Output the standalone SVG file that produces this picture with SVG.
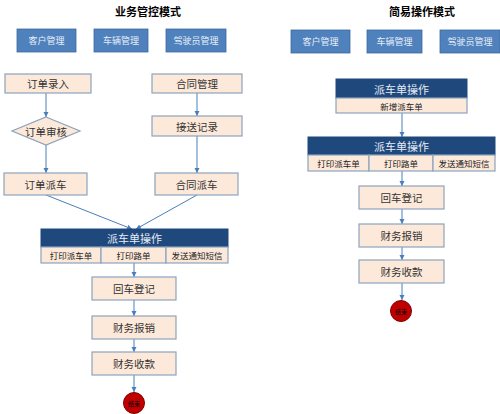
<svg xmlns="http://www.w3.org/2000/svg" width="500" height="414" viewBox="0 0 500 414">
<defs>
<style>
text{font-family:"Noto Sans CJK SC","Noto Sans",sans-serif;text-anchor:middle;dominant-baseline:central}
.title{font-size:11px;font-weight:bold;fill:#000}
.mb{fill:#4f81bd;stroke:#3c6a9e;stroke-width:0.8}
.mbt{font-size:9px;fill:#e8eef8}
.box{fill:#fde9d9;stroke:#8da3bd;stroke-width:1.2}
.bt{font-size:10.5px;fill:#333}
.hd{fill:#1f497d;stroke:#1f497d}
.hdt{font-size:11px;fill:#e6ecf5}
.ct{font-size:8.5px;fill:#222}
.ln{stroke:#4a7ebb;stroke-width:1;fill:none}
.end{fill:#c00000;stroke:#7f0000;stroke-width:1}
.et{font-size:6px;fill:#000}
</style>
<marker id="ah" markerWidth="6" markerHeight="6" refX="5" refY="3" orient="auto" markerUnits="userSpaceOnUse">
<path d="M0,0.5 L5,3 L0,5.5 Z" fill="#4a7ebb"/>
</marker>
</defs>
<rect width="500" height="414" fill="#fff"/>

<text class="title" x="148" y="11">业务管控模式</text>
<text class="title" x="422" y="11">简易操作模式</text>

<g id="connectors">
<line class="ln" x1="46" y1="93" x2="46" y2="117" marker-end="url(#ah)"/>
<line class="ln" x1="46" y1="145" x2="46" y2="173" marker-end="url(#ah)"/>
<line class="ln" x1="197" y1="93" x2="197" y2="116" marker-end="url(#ah)"/>
<line class="ln" x1="197" y1="136" x2="197" y2="173" marker-end="url(#ah)"/>
<line class="ln" x1="46" y1="195" x2="132" y2="229" marker-end="url(#ah)"/>
<line class="ln" x1="197" y1="195" x2="136" y2="229" marker-end="url(#ah)"/>
<line class="ln" x1="134" y1="263" x2="134" y2="277" marker-end="url(#ah)"/>
<line class="ln" x1="134" y1="300" x2="134" y2="316" marker-end="url(#ah)"/>
<line class="ln" x1="134" y1="339" x2="134" y2="352" marker-end="url(#ah)"/>
<line class="ln" x1="134" y1="375" x2="134" y2="392" marker-end="url(#ah)"/>
<line class="ln" x1="402" y1="113" x2="402" y2="137" marker-end="url(#ah)"/>
<line class="ln" x1="402" y1="171" x2="402" y2="186" marker-end="url(#ah)"/>
<line class="ln" x1="402" y1="209" x2="402" y2="224" marker-end="url(#ah)"/>
<line class="ln" x1="402" y1="247" x2="402" y2="260" marker-end="url(#ah)"/>
<line class="ln" x1="402" y1="283" x2="402" y2="300" marker-end="url(#ah)"/>
</g>

<g id="l-kehu"><rect class="mb" x="17" y="29" width="59" height="23"/><text class="mbt" x="46.5" y="40.5">客户管理</text></g>
<g id="l-cheliang"><rect class="mb" x="94" y="29" width="54" height="23"/><text class="mbt" x="121" y="40.5">车辆管理</text></g>
<g id="l-jiashiyuan"><rect class="mb" x="166" y="29" width="60" height="23"/><text class="mbt" x="196" y="40.5">驾驶员管理</text></g>

<g id="l-dingdanluru"><rect class="box" x="5" y="74" width="86" height="19"/><text class="bt" x="48" y="83.5">订单录入</text></g>
<g id="l-hetongguanli"><rect class="box" x="152" y="74" width="90" height="19"/><text class="bt" x="197" y="83.5">合同管理</text></g>
<g id="l-dingdanshenhe"><polygon class="box" points="46,117 80,131 46,145 12,131"/><text class="bt" x="46" y="131">订单审核</text></g>
<g id="l-jiesongjilu"><rect class="box" x="152" y="116" width="90" height="20"/><text class="bt" x="197" y="126">接送记录</text></g>
<g id="l-dingdanpaiche"><rect class="box" x="4" y="173" width="83" height="22"/><text class="bt" x="45.5" y="184">订单派车</text></g>
<g id="l-hetongpaiche"><rect class="box" x="155" y="173" width="83" height="22"/><text class="bt" x="196.5" y="184">合同派车</text></g>

<g id="l-paichedan">
<rect class="hd" x="41" y="229" width="187" height="18"/><text class="hdt" x="134.5" y="238">派车单操作</text>
<rect class="box" x="41" y="247" width="60" height="16"/><text class="ct" x="71" y="255">打印派车单</text>
<rect class="box" x="101" y="247" width="65" height="16"/><text class="ct" x="133.5" y="255">打印路单</text>
<rect class="box" x="166" y="247" width="62" height="16"/><text class="ct" x="197" y="255">发送通知短信</text>
</g>
<g id="l-huiche"><rect class="box" x="92" y="277" width="84" height="23"/><text class="bt" x="134" y="288.5">回车登记</text></g>
<g id="l-baoxiao"><rect class="box" x="92" y="316" width="84" height="23"/><text class="bt" x="134" y="327.5">财务报销</text></g>
<g id="l-shoukuan"><rect class="box" x="92" y="352" width="84" height="23"/><text class="bt" x="134" y="363.5">财务收款</text></g>
<g id="l-end"><circle class="end" cx="134" cy="403" r="10.5"/><text class="et" x="134" y="403">结束</text></g>

<g id="r-kehu"><rect class="mb" x="291" y="30" width="59" height="23"/><text class="mbt" x="320.5" y="41.5">客户管理</text></g>
<g id="r-cheliang"><rect class="mb" x="367" y="30" width="55" height="23"/><text class="mbt" x="394.5" y="41.5">车辆管理</text></g>
<g id="r-jiashiyuan"><rect class="mb" x="440" y="30" width="60" height="23"/><text class="mbt" x="470" y="41.5">驾驶员管理</text></g>

<g id="r-paichedan1">
<rect class="hd" x="336" y="79" width="131" height="19"/><text class="hdt" x="401.5" y="88.5">派车单操作</text>
<rect class="box" x="336" y="98" width="131" height="15"/><text class="ct" x="401.5" y="105.5">新增派车单</text>
</g>
<g id="r-paichedan2">
<rect class="hd" x="308" y="137" width="187" height="18"/><text class="hdt" x="401.5" y="146">派车单操作</text>
<rect class="box" x="308" y="155" width="61" height="16"/><text class="ct" x="338.5" y="163">打印派车单</text>
<rect class="box" x="369" y="155" width="64" height="16"/><text class="ct" x="401" y="163">打印路单</text>
<rect class="box" x="433" y="155" width="62" height="16"/><text class="ct" x="464" y="163">发送通知短信</text>
</g>
<g id="r-huiche"><rect class="box" x="359" y="186" width="85" height="23"/><text class="bt" x="401.5" y="197.5">回车登记</text></g>
<g id="r-baoxiao"><rect class="box" x="359" y="224" width="85" height="23"/><text class="bt" x="401.5" y="235.5">财务报销</text></g>
<g id="r-shoukuan"><rect class="box" x="359" y="260" width="85" height="23"/><text class="bt" x="401.5" y="271.5">财务收款</text></g>
<g id="r-end"><circle class="end" cx="401" cy="311" r="10.5"/><text class="et" x="401" y="311">结束</text></g>
</svg>
